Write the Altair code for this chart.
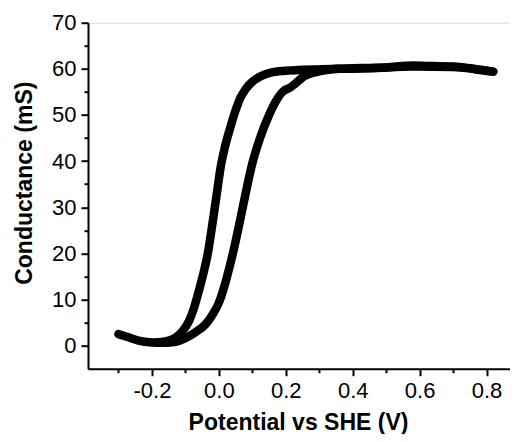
import altair as alt
import pandas as pd

# forward scan (right branch)
fwd_x = [-0.30, -0.27, -0.24, -0.20, -0.16, -0.13, -0.10, -0.07, -0.04, -0.02, 0.00, 0.015,
         0.03, 0.042, 0.063, 0.08, 0.10, 0.123, 0.15, 0.173, 0.195, 0.21, 0.225, 0.251,
         0.29, 0.323, 0.36, 0.40, 0.45, 0.50, 0.58, 0.64, 0.70, 0.75, 0.78, 0.82]
fwd_y = [2.5, 1.8, 1.1, 0.7, 0.6, 0.8, 1.6, 2.9, 4.6, 6.6, 9.3, 12.5,
         16.5, 20.0, 27.0, 33.0, 39.5, 45.0, 50.0, 53.3, 55.3, 55.8, 56.6, 58.2,
         59.3, 59.75, 60.0, 60.1, 60.2, 60.3, 60.7, 60.6, 60.5, 60.1, 59.75, 59.4]

# reverse scan (left branch)
rev_x = [-0.19, -0.16, -0.13, -0.11, -0.09, -0.075, -0.06, -0.045, -0.033, -0.018,
         -0.005, 0.005, 0.018, 0.033, 0.05, 0.065, 0.08, 0.10, 0.125, 0.155, 0.20,
         0.25, 0.35, 0.45, 0.58, 0.70, 0.82]
rev_y = [0.7, 0.9, 1.7, 3.0, 5.2, 8.0, 11.8, 16.0, 20.0, 27.0,
         33.5, 38.5, 43.0, 47.0, 51.0, 53.8, 55.6, 57.2, 58.4, 59.2, 59.6,
         59.8, 60.0, 60.1, 60.5, 60.4, 59.4]

x_ticks = [-0.3, -0.2, -0.1, 0.0, 0.1, 0.2, 0.3, 0.4, 0.5, 0.6, 0.7, 0.8]
y_ticks = [0, 5, 10, 15, 20, 25, 30, 35, 40, 45, 50, 55, 60, 65, 70]

rows = []
for i, (x, y) in enumerate(zip(fwd_x, fwd_y)):
    rows.append({"scan": "forward", "i": i, "x": x, "y": y})
for i, (x, y) in enumerate(zip(rev_x, rev_y)):
    rows.append({"scan": "reverse", "i": i, "x": x, "y": y})
df = pd.DataFrame(rows)

FONT = "Liberation Sans"

x_axis = alt.Axis(
    title="Potential vs SHE (V)",
    values=x_ticks,
    labelExpr="round(datum.value*10) % 2 == 0 ? replace(format(datum.value, '.1f'), '\u2212', '-') : ''",
    tickSize={"condition": {"test": "round(datum.value*10) % 2 == 0", "value": 7}, "value": 4},
    grid=False,
    domainColor="black", domainWidth=2, tickColor="black", tickWidth=2,
    labelFont=FONT, labelFontSize=22, labelColor="black", labelPadding=5,
    labelFlush=False, labelOverlap=False,
    titleFont=FONT, titleFontSize=23, titleFontWeight="bold", titleColor="black",
    titleX=210, titleY=61, titleBaseline="alphabetic", titleAnchor="middle",
)
y_axis = alt.Axis(
    title="Conductance (mS)",
    values=y_ticks,
    labelExpr="datum.value % 10 == 0 ? format(datum.value, 'd') : ''",
    tickSize={"condition": {"test": "datum.value % 10 == 0", "value": 7}, "value": 4},
    grid=False,
    domainColor="black", domainWidth=2, tickColor="black", tickWidth=2,
    labelFont=FONT, labelFontSize=22, labelColor="black", labelPadding=5,
    labelFlush=False, labelOverlap=False,
    titleFont=FONT, titleFontSize=23, titleFontWeight="bold", titleColor="black",
    titleX=-57, titleY=160, titleBaseline="alphabetic", titleAngle=270, titleAnchor="middle",
)

chart = alt.Chart(df).mark_line(color="black", strokeWidth=8.5, strokeCap="round", strokeJoin="round", interpolate="monotone").encode(
    x=alt.X("x:Q", scale=alt.Scale(domain=[-0.391, 0.87], nice=False, zero=False), axis=x_axis),
    y=alt.Y("y:Q", scale=alt.Scale(domain=[-5, 70], nice=False, zero=False), axis=y_axis),
    detail="scan:N",
    order="i:Q",
).properties(
    width=422, height=346,
    autosize="none",
    padding={"left": 80, "top": 14.7, "right": 0, "bottom": 65.3},
).configure_view(stroke=None).configure(background="white")

chart.save("out.html", embed_options={"renderer": "svg", "actions": False})
